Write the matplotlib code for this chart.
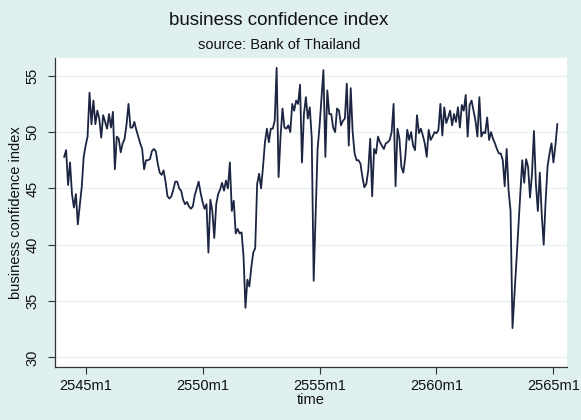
import numpy as np
import matplotlib.pyplot as plt

plt.rcParams['font.family'] = ['Liberation Sans', 'DejaVu Sans']

# monthly values, first observation 2544m2
start_month = -11  # months relative to 2545m1
bci = [
    47.8, 48.4, 45.3, 47.3, 44.5, 43.3, 44.5, 41.8, 43.5, 45.1,
    47.8, 48.8, 49.6, 53.5, 50.7, 52.8, 50.7, 51.9, 51.2, 49.5,
    51.5, 50.9, 50.3, 51.6, 50.4, 51.8, 46.7, 49.6, 49.4, 48.2,
    49.0, 49.4, 50.7, 52.5, 50.4, 50.4, 50.9, 50.2, 49.6, 49.0,
    48.5, 46.7, 47.5, 47.5, 47.6, 48.3, 48.5, 48.3, 47.2, 46.4,
    46.2, 46.6, 45.6, 44.3, 44.1, 44.3, 44.9, 45.6, 45.6, 45.0,
    44.8, 44.0, 43.6, 43.8, 43.4, 43.2, 43.4, 44.4, 45.0, 45.6,
    44.6, 43.8, 43.2, 43.6, 39.3, 44.0, 43.0, 40.6, 43.6, 44.5,
    44.9, 45.5, 44.8, 45.7, 45.0, 47.3, 43.0, 43.9, 41.0, 41.4,
    41.0, 41.1, 39.0, 34.4, 36.9, 36.3, 38.0, 39.3, 39.7, 45.4,
    46.3, 45.0, 46.9, 49.1, 50.3, 49.1, 50.3, 50.3, 51.0, 55.7,
    46.0, 49.6, 52.1, 50.4, 50.3, 50.6, 50.0, 52.5, 51.9, 52.8,
    52.5, 54.2, 47.3, 51.6, 53.1, 51.2, 52.2, 49.5, 36.8, 42.5,
    48.5, 50.5, 53.0, 55.5, 47.8, 53.7, 51.6, 51.6, 50.4, 50.0,
    52.1, 51.9, 50.6, 51.0, 51.2, 54.3, 48.8, 53.9, 50.0, 48.1,
    47.5, 47.5, 47.2, 46.0, 45.1, 45.4, 46.6, 49.4, 44.3, 48.5,
    48.1, 49.6, 49.1, 48.8, 48.5, 49.0, 49.1, 49.3, 50.0, 52.5,
    45.2, 50.3, 49.4, 46.9, 46.4, 47.8, 50.2, 49.3, 50.0, 48.8,
    48.4, 51.5, 49.9, 50.3, 49.7, 49.0, 47.8, 50.2, 49.3, 49.6,
    50.0, 49.9, 50.2, 52.5, 49.7, 52.2, 50.8, 51.3, 51.9, 50.6,
    51.6, 50.9, 52.2, 50.4, 52.4, 51.9, 53.3, 49.6, 52.4, 52.8,
    51.9, 51.0, 49.6, 53.1, 49.6, 50.0, 49.9, 51.3, 49.3, 50.0,
    49.4, 49.0, 48.5, 48.1, 48.1, 47.5, 45.2, 48.5, 44.8, 43.0,
    32.6, 35.5, 38.5, 41.5, 44.5, 47.5, 45.5, 47.6, 46.9, 44.2,
    46.3, 50.1, 45.4, 43.0, 46.4, 42.7, 40.0, 43.9, 47.0, 48.1,
    49.0, 47.3, 48.8, 50.7,
]
months = np.arange(len(bci)) + start_month

tick_pos = [0, 60, 120, 180, 240]
tick_labels = ['2545m1', '2550m1', '2555m1', '2560m1', '2565m1']
y_ticks = [30, 35, 40, 45, 50, 55]

bg = '#e0f0f1'
fig = plt.figure(figsize=(5.81, 4.2), dpi=100, facecolor=bg)
ax = fig.add_axes([0.0947, 0.126, 0.881, 0.736], facecolor='white')

ax.plot(months, bci, color='#1c2541', linewidth=1.3)

ax.set_xlim(-15.7, 246.9)
ax.set_ylim(29.14, 56.58)
ax.set_xticks(tick_pos)
ax.set_xticklabels(tick_labels)
ax.set_yticks(y_ticks)
ax.set_yticklabels([str(v) for v in y_ticks], rotation=90, va='center')
ax.grid(axis='y', color='#eaf2f4', linewidth=1.0)
ax.set_axisbelow(True)
for s in ['top', 'right']:
    ax.spines[s].set_visible(False)
for s in ['left', 'bottom']:
    ax.spines[s].set_color('#333333')
    ax.spines[s].set_linewidth(0.9)
ax.tick_params(axis='both', labelsize=10.5, length=5, color='#333333',
               labelcolor='#111111')
ax.tick_params(axis='y', pad=6)
ax.set_xlabel('time', fontsize=10.5, labelpad=0, color='#111111')
ax.set_ylabel('business confidence index', fontsize=10.5, labelpad=2,
              color='#111111')

fig.text(0.48, 0.952, 'business confidence index', ha='center', va='center',
         fontsize=13.5, color='#111111')
fig.text(0.48, 0.893, 'source: Bank of Thailand', ha='center', va='center',
         fontsize=10.5, color='#111111')

fig.savefig('out.png', dpi=100, facecolor=bg)
